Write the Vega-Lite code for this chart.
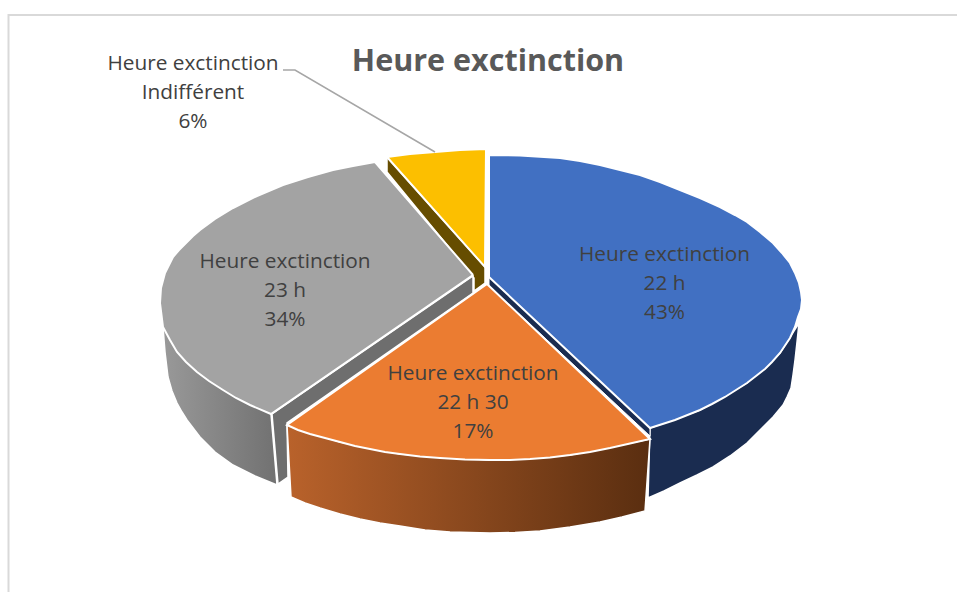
{
"$schema":"https://vega.github.io/schema/vega-lite/v6.json",
"width":957,"height":592,"padding":0,"autosize":{"type":"none"},
"background":"white","view":{"stroke":null},
"datasets":{
"outline":[
{"part":"frame","i":0,"x":8.5,"y":592},{"part":"frame","i":1,"x":8.5,"y":15},{"part":"frame","i":2,"x":957,"y":15},
{"part":"yellowWall","i":0,"x":387,"y":157},{"part":"yellowWall","i":1,"x":387,"y":172},{"part":"yellowWall","i":2,"x":474,"y":278},{"part":"yellowWall","i":3,"x":474,"y":291},{"part":"yellowWall","i":4,"x":485,"y":283},{"part":"yellowWall","i":5,"x":485,"y":267},{"part":"yellowWall","i":6,"x":387,"y":157},
{"part":"yellowTop","i":0,"x":387,"y":157},{"part":"yellowTop","i":1,"x":410,"y":154},{"part":"yellowTop","i":2,"x":435,"y":152},{"part":"yellowTop","i":3,"x":460,"y":150},{"part":"yellowTop","i":4,"x":486,"y":149},{"part":"yellowTop","i":5,"x":485,"y":267},{"part":"yellowTop","i":6,"x":387,"y":157},
{"part":"greySide","i":0,"x":160,"y":303},{"part":"greySide","i":1,"x":163,"y":327},{"part":"greySide","i":2,"x":165,"y":352},{"part":"greySide","i":3,"x":168,"y":377},{"part":"greySide","i":4,"x":172,"y":391},{"part":"greySide","i":5,"x":177,"y":403},{"part":"greySide","i":6,"x":182,"y":412},{"part":"greySide","i":7,"x":187,"y":420},{"part":"greySide","i":8,"x":200,"y":437},{"part":"greySide","i":9,"x":215,"y":452},{"part":"greySide","i":10,"x":233,"y":465},{"part":"greySide","i":11,"x":255,"y":476},{"part":"greySide","i":12,"x":277,"y":485},{"part":"greySide","i":13,"x":271,"y":414},{"part":"greySide","i":14,"x":160,"y":303},
{"part":"greyWall","i":0,"x":272,"y":414},{"part":"greyWall","i":1,"x":473,"y":276},{"part":"greyWall","i":2,"x":473,"y":293},{"part":"greyWall","i":3,"x":287,"y":423},{"part":"greyWall","i":4,"x":288,"y":477},{"part":"greyWall","i":5,"x":278,"y":484},{"part":"greyWall","i":6,"x":272,"y":414},
{"part":"greyTop","i":0,"x":473,"y":275},{"part":"greyTop","i":1,"x":375,"y":162},{"part":"greyTop","i":2,"x":353,"y":166},{"part":"greyTop","i":3,"x":333,"y":170},{"part":"greyTop","i":4,"x":308,"y":177},{"part":"greyTop","i":5,"x":283,"y":185},{"part":"greyTop","i":6,"x":257,"y":196},{"part":"greyTop","i":7,"x":233,"y":208},{"part":"greyTop","i":8,"x":215,"y":219},{"part":"greyTop","i":9,"x":200,"y":230},{"part":"greyTop","i":10,"x":193,"y":236},{"part":"greyTop","i":11,"x":179,"y":250},{"part":"greyTop","i":12,"x":173,"y":257},{"part":"greyTop","i":13,"x":165,"y":273},{"part":"greyTop","i":14,"x":161,"y":288},{"part":"greyTop","i":15,"x":160,"y":303},{"part":"greyTop","i":16,"x":163,"y":327},{"part":"greyTop","i":17,"x":170,"y":340},{"part":"greyTop","i":18,"x":177,"y":352},{"part":"greyTop","i":19,"x":186,"y":362},{"part":"greyTop","i":20,"x":197,"y":372},{"part":"greyTop","i":21,"x":209,"y":381},{"part":"greyTop","i":22,"x":223,"y":390},{"part":"greyTop","i":23,"x":236,"y":398},{"part":"greyTop","i":24,"x":250,"y":405},{"part":"greyTop","i":25,"x":271,"y":414},{"part":"greyTop","i":26,"x":473,"y":275},
{"part":"blueSide","i":0,"x":650,"y":428},{"part":"blueSide","i":1,"x":700,"y":410},{"part":"blueSide","i":2,"x":747,"y":383},{"part":"blueSide","i":3,"x":780,"y":353},{"part":"blueSide","i":4,"x":799,"y":323},{"part":"blueSide","i":5,"x":797,"y":342},{"part":"blueSide","i":6,"x":795,"y":360},{"part":"blueSide","i":7,"x":793,"y":375},{"part":"blueSide","i":8,"x":791,"y":388},{"part":"blueSide","i":9,"x":787,"y":397},{"part":"blueSide","i":10,"x":783,"y":405},{"part":"blueSide","i":11,"x":773,"y":417},{"part":"blueSide","i":12,"x":760,"y":430},{"part":"blueSide","i":13,"x":747,"y":443},{"part":"blueSide","i":14,"x":730,"y":456},{"part":"blueSide","i":15,"x":713,"y":467},{"part":"blueSide","i":16,"x":697,"y":475},{"part":"blueSide","i":17,"x":680,"y":483},{"part":"blueSide","i":18,"x":664,"y":491},{"part":"blueSide","i":19,"x":648,"y":498},{"part":"blueSide","i":20,"x":650,"y":428},
{"part":"blueStrip","i":0,"x":650,"y":428},{"part":"blueStrip","i":1,"x":650,"y":436},{"part":"blueStrip","i":2,"x":489,"y":286},{"part":"blueStrip","i":3,"x":489,"y":277},{"part":"blueStrip","i":4,"x":650,"y":428},
{"part":"blueTop","i":0,"x":489,"y":155},{"part":"blueTop","i":1,"x":520,"y":155.5},{"part":"blueTop","i":2,"x":560,"y":158},{"part":"blueTop","i":3,"x":580,"y":161},{"part":"blueTop","i":4,"x":600,"y":165},{"part":"blueTop","i":5,"x":620,"y":170},{"part":"blueTop","i":6,"x":640,"y":175},{"part":"blueTop","i":7,"x":660,"y":182},{"part":"blueTop","i":8,"x":680,"y":190},{"part":"blueTop","i":9,"x":700,"y":198},{"part":"blueTop","i":10,"x":720,"y":207},{"part":"blueTop","i":11,"x":735,"y":215},{"part":"blueTop","i":12,"x":747,"y":222},{"part":"blueTop","i":13,"x":760,"y":232},{"part":"blueTop","i":14,"x":773,"y":243},{"part":"blueTop","i":15,"x":782,"y":253},{"part":"blueTop","i":16,"x":790,"y":263},{"part":"blueTop","i":17,"x":795,"y":273},{"part":"blueTop","i":18,"x":799,"y":283},{"part":"blueTop","i":19,"x":801,"y":292},{"part":"blueTop","i":20,"x":802,"y":300},{"part":"blueTop","i":21,"x":801,"y":309},{"part":"blueTop","i":22,"x":798,"y":317},{"part":"blueTop","i":23,"x":795,"y":327},{"part":"blueTop","i":24,"x":790,"y":338},{"part":"blueTop","i":25,"x":780,"y":353},{"part":"blueTop","i":26,"x":772,"y":362},{"part":"blueTop","i":27,"x":765,"y":369},{"part":"blueTop","i":28,"x":756,"y":376},{"part":"blueTop","i":29,"x":747,"y":383},{"part":"blueTop","i":30,"x":725,"y":397},{"part":"blueTop","i":31,"x":712,"y":404},{"part":"blueTop","i":32,"x":700,"y":410},{"part":"blueTop","i":33,"x":675,"y":420},{"part":"blueTop","i":34,"x":650,"y":428},{"part":"blueTop","i":35,"x":489,"y":277},{"part":"blueTop","i":36,"x":489,"y":155},
{"part":"orangeSide","i":0,"x":287,"y":425},{"part":"orangeSide","i":1,"x":340,"y":442},{"part":"orangeSide","i":2,"x":400,"y":454},{"part":"orangeSide","i":3,"x":490,"y":460},{"part":"orangeSide","i":4,"x":570,"y":455},{"part":"orangeSide","i":5,"x":650,"y":439},{"part":"orangeSide","i":6,"x":645,"y":511},{"part":"orangeSide","i":7,"x":622,"y":517},{"part":"orangeSide","i":8,"x":600,"y":522},{"part":"orangeSide","i":9,"x":570,"y":527},{"part":"orangeSide","i":10,"x":540,"y":531},{"part":"orangeSide","i":11,"x":515,"y":532.5},{"part":"orangeSide","i":12,"x":490,"y":533},{"part":"orangeSide","i":13,"x":450,"y":532},{"part":"orangeSide","i":14,"x":425,"y":530},{"part":"orangeSide","i":15,"x":400,"y":526},{"part":"orangeSide","i":16,"x":380,"y":523},{"part":"orangeSide","i":17,"x":360,"y":519},{"part":"orangeSide","i":18,"x":340,"y":514},{"part":"orangeSide","i":19,"x":320,"y":508},{"part":"orangeSide","i":20,"x":305,"y":503},{"part":"orangeSide","i":21,"x":291,"y":497},{"part":"orangeSide","i":22,"x":287,"y":425},
{"part":"orangeTop","i":0,"x":487,"y":284},{"part":"orangeTop","i":1,"x":287,"y":425},{"part":"orangeTop","i":2,"x":298,"y":430},{"part":"orangeTop","i":3,"x":310,"y":434},{"part":"orangeTop","i":4,"x":325,"y":438},{"part":"orangeTop","i":5,"x":340,"y":442},{"part":"orangeTop","i":6,"x":355,"y":446},{"part":"orangeTop","i":7,"x":370,"y":449},{"part":"orangeTop","i":8,"x":385,"y":452},{"part":"orangeTop","i":9,"x":400,"y":454},{"part":"orangeTop","i":10,"x":420,"y":456.5},{"part":"orangeTop","i":11,"x":440,"y":458},{"part":"orangeTop","i":12,"x":465,"y":459.5},{"part":"orangeTop","i":13,"x":490,"y":460},{"part":"orangeTop","i":14,"x":510,"y":460},{"part":"orangeTop","i":15,"x":530,"y":459},{"part":"orangeTop","i":16,"x":550,"y":457.5},{"part":"orangeTop","i":17,"x":570,"y":455},{"part":"orangeTop","i":18,"x":590,"y":452},{"part":"orangeTop","i":19,"x":610,"y":448},{"part":"orangeTop","i":20,"x":630,"y":443.5},{"part":"orangeTop","i":21,"x":650,"y":439},{"part":"orangeTop","i":22,"x":487,"y":284},
{"part":"leader","i":0,"x":283,"y":70},{"part":"leader","i":1,"x":295,"y":70},{"part":"leader","i":2,"x":435,"y":152}
],
"labels":[
{"slice":"22 h","share":43,"label":"Heure exctinction\n22 h\n43%","x":664.5,"y":254.5},
{"slice":"22 h 30","share":17,"label":"Heure exctinction\n22 h 30\n17%","x":473,"y":373.5},
{"slice":"23 h","share":34,"label":"Heure exctinction\n23 h\n34%","x":285,"y":261.5},
{"slice":"Indifférent","share":6,"label":"Heure exctinction\nIndifférent\n6%","x":193,"y":63.5}
],
"titleRow":[{"label":"Heure exctinction","x":488,"y":61.5}]
},
"encoding":{
"x":{"field":"x","type":"quantitative","axis":null,"scale":{"domain":[0,957],"nice":false,"zero":false}},
"y":{"field":"y","type":"quantitative","axis":null,"scale":{"domain":[592,0],"nice":false,"zero":false}}
},
"layer":[
{"data":{"name":"outline"},"transform":[{"filter":"datum.part==='frame'"}],"mark":{"type":"line","stroke":"#d9d9d9","strokeWidth":2},"encoding":{"order":{"field":"i"}}},
{"data":{"name":"outline"},"transform":[{"filter":"datum.part==='yellowWall'"}],"mark":{"type":"line","fill":"#664d00","stroke":"#ffffff","strokeWidth":1.5},"encoding":{"order":{"field":"i"}}},
{"data":{"name":"outline"},"transform":[{"filter":"datum.part==='yellowTop'"}],"mark":{"type":"line","fill":"#fcbf00","stroke":"#ffffff","strokeWidth":2},"encoding":{"order":{"field":"i"}}},
{"data":{"name":"outline"},"transform":[{"filter":"datum.part==='greySide'"}],"mark":{"type":"line","fill":{"gradient":"linear","x1":0,"x2":1,"y1":0,"y2":0,"stops":[{"offset":0,"color":"#9a9a9a"},{"offset":1,"color":"#717171"}]},"stroke":"#ffffff","strokeWidth":1.5},"encoding":{"order":{"field":"i"}}},
{"data":{"name":"outline"},"transform":[{"filter":"datum.part==='greyWall'"}],"mark":{"type":"line","fill":"#6e6e6e","stroke":"#ffffff","strokeWidth":1.5},"encoding":{"order":{"field":"i"}}},
{"data":{"name":"outline"},"transform":[{"filter":"datum.part==='greyTop'"}],"mark":{"type":"line","fill":"#a3a3a3","stroke":"#ffffff","strokeWidth":2},"encoding":{"order":{"field":"i"}}},
{"data":{"name":"outline"},"transform":[{"filter":"datum.part==='blueSide'"}],"mark":{"type":"line","fill":"#1a2c50","stroke":"#ffffff","strokeWidth":1.5},"encoding":{"order":{"field":"i"}}},
{"data":{"name":"outline"},"transform":[{"filter":"datum.part==='blueStrip'"}],"mark":{"type":"line","fill":"#1a2c50","stroke":"#ffffff","strokeWidth":1},"encoding":{"order":{"field":"i"}}},
{"data":{"name":"outline"},"transform":[{"filter":"datum.part==='blueTop'"}],"mark":{"type":"line","fill":"#4170c2","stroke":"#ffffff","strokeWidth":2},"encoding":{"order":{"field":"i"}}},
{"data":{"name":"outline"},"transform":[{"filter":"datum.part==='orangeSide'"}],"mark":{"type":"line","fill":{"gradient":"linear","x1":0,"x2":1,"y1":0,"y2":0,"stops":[{"offset":0,"color":"#b9622b"},{"offset":1,"color":"#5a2e10"}]},"stroke":"#ffffff","strokeWidth":1.5},"encoding":{"order":{"field":"i"}}},
{"data":{"name":"outline"},"transform":[{"filter":"datum.part==='orangeTop'"}],"mark":{"type":"line","fill":"#eb7c31","stroke":"#ffffff","strokeWidth":2},"encoding":{"order":{"field":"i"}}},
{"data":{"name":"outline"},"transform":[{"filter":"datum.part==='leader'"}],"mark":{"type":"line","stroke":"#a6a6a6","strokeWidth":1.5},"encoding":{"order":{"field":"i"}}},
{"data":{"name":"labels"},"mark":{"type":"text","font":"Open Sans","fontSize":20.8,"lineBreak":"\n","lineHeight":29,"align":"center","baseline":"middle","color":"#404040"},"encoding":{"text":{"field":"label"}}},
{"data":{"name":"titleRow"},"mark":{"type":"text","font":"Open Sans","fontSize":30.5,"fontWeight":"bold","align":"center","baseline":"middle","color":"#595959"},"encoding":{"text":{"field":"label"}}}
]
}
